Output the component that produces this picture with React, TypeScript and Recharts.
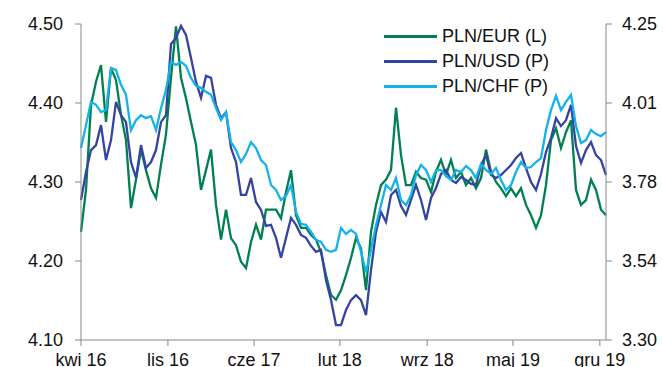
import { LineChart, Line, XAxis, YAxis } from "recharts";

const COLORS = { eur: "#00804f", usd: "#3444a0", chf: "#14b2ea" };
const FONT = '"Liberation Sans", Arial, sans-serif';

// one reading roughly every 13 days, Apr 2016 -> end of 2019
const STEP_DAYS = 13;

const X_TICKS = [0, 226, 450, 673, 900, 1123, 1349];
const X_LABELS = ["kwi 16", "lis 16", "cze 17", "lut 18", "wrz 18", "maj 19", "gru 19"];

const LEFT_TICKS = [4.1, 4.2, 4.3, 4.4, 4.5];
const RIGHT_TICKS = [3.3, 3.5375, 3.775, 4.0125, 4.25];
const RIGHT_LABELS = ["3.30", "3.54", "3.78", "4.01", "4.25"];

const PLN_EUR = [
  4.237, 4.29, 4.397, 4.427, 4.448, 4.376, 4.444, 4.429, 4.385, 4.353,
  4.267, 4.303, 4.341, 4.315, 4.292, 4.28, 4.322, 4.36, 4.432, 4.497,
  4.432, 4.406, 4.376, 4.347, 4.29, 4.315, 4.341, 4.271, 4.227, 4.265,
  4.229, 4.22, 4.199, 4.191, 4.224, 4.246, 4.227, 4.265, 4.265, 4.265,
  4.254, 4.287, 4.315, 4.258, 4.242, 4.242, 4.233, 4.227, 4.211, 4.182,
  4.157, 4.151, 4.163, 4.182, 4.204, 4.229, 4.216, 4.163, 4.237, 4.271,
  4.296, 4.303, 4.315, 4.394, 4.334, 4.296, 4.296, 4.313, 4.305, 4.303,
  4.287, 4.313, 4.328, 4.309, 4.328, 4.305, 4.313, 4.296, 4.305, 4.292,
  4.305, 4.341, 4.313, 4.3, 4.292, 4.282, 4.292, 4.282, 4.292, 4.271,
  4.258, 4.242, 4.258, 4.296, 4.353, 4.368, 4.343, 4.363, 4.378, 4.29,
  4.271, 4.277, 4.303, 4.29, 4.265, 4.258,
];

const PLN_USD = [
  3.721, 3.805, 3.871, 3.886, 3.946, 3.841, 3.901, 4.016, 3.976, 3.955,
  3.835, 3.787, 3.886, 3.817, 3.835, 3.871, 3.955, 3.976, 4.19, 4.208,
  4.244, 4.217, 4.148, 4.076, 4.028, 4.094, 4.088, 4.007, 3.967, 3.985,
  3.877, 3.835, 3.736, 3.736, 3.787, 3.715, 3.691, 3.643, 3.646, 3.607,
  3.547, 3.607, 3.667, 3.646, 3.616, 3.607, 3.583, 3.565, 3.571, 3.48,
  3.42, 3.345, 3.345, 3.39, 3.42, 3.435, 3.42, 3.375, 3.51, 3.625,
  3.685, 3.655, 3.736, 3.751, 3.703, 3.676, 3.721, 3.766, 3.721, 3.661,
  3.727, 3.757, 3.799, 3.811, 3.781, 3.772, 3.79, 3.781, 3.769, 3.766,
  3.826, 3.856, 3.796, 3.787, 3.796, 3.811, 3.826, 3.847, 3.862, 3.817,
  3.775, 3.751, 3.799, 3.865, 3.907, 3.967, 3.943, 3.961, 4.007, 3.883,
  3.832, 3.871, 3.895, 3.856, 3.841, 3.796,
];

const PLN_CHF = [
  3.877, 3.946, 4.016, 4.007, 3.985, 3.991, 4.118, 4.112, 4.067, 4.037,
  3.931, 3.961, 3.976, 3.967, 3.973, 3.931, 3.997, 4.052, 4.136, 4.127,
  4.136, 4.124, 4.088, 4.064, 4.058, 4.046, 4.037, 3.997, 3.961, 3.985,
  3.895, 3.871, 3.835, 3.859, 3.895, 3.877, 3.841, 3.826, 3.766, 3.751,
  3.721, 3.733, 3.766, 3.685, 3.649, 3.646, 3.625, 3.601, 3.595, 3.571,
  3.565, 3.571, 3.637, 3.619, 3.631, 3.619, 3.565, 3.504, 3.571, 3.646,
  3.706, 3.766, 3.751, 3.787, 3.721, 3.706, 3.736, 3.796, 3.826, 3.811,
  3.775, 3.811, 3.811, 3.793, 3.781, 3.811, 3.805, 3.823, 3.811, 3.787,
  3.829, 3.811, 3.799, 3.817, 3.781, 3.751, 3.766, 3.805, 3.835, 3.817,
  3.82, 3.835, 3.847, 3.931, 3.991, 4.034, 3.991, 4.016, 4.037, 3.943,
  3.892, 3.901, 3.931, 3.919, 3.913, 3.925,
];

const SERIES = [
  { key: "eur", name: "PLN/EUR (L)", axis: "left", color: COLORS.eur },
  { key: "usd", name: "PLN/USD (P)", axis: "right", color: COLORS.usd },
  { key: "chf", name: "PLN/CHF (P)", axis: "right", color: COLORS.chf },
];

const data = PLN_EUR.map((eur, i) => ({
  day: i * STEP_DAYS,
  eur,
  usd: PLN_USD[i],
  chf: PLN_CHF[i],
}));

const tickStyle = { fill: "#111", fontSize: 18, fontFamily: FONT };

export default function App() {
  return (
    <div style={{ position: "absolute", left: 0, top: 0, width: 663, height: 367, background: "#fff", overflow: "hidden" }}>
      <LineChart width={663} height={367} data={data} margin={{ top: 24, right: 0, bottom: 0, left: 0 }}>
        <XAxis
          dataKey="day"
          type="number"
          domain={[0, 1365]}
          ticks={X_TICKS}
          tickFormatter={(v) => X_LABELS[X_TICKS.indexOf(v)]}
          interval={0}
          height={27}
          tickSize={6}
          tickMargin={7}
          stroke="#888"
          tick={tickStyle}
        />
        <YAxis
          yAxisId="left"
          domain={[4.1, 4.5]}
          ticks={LEFT_TICKS}
          tickFormatter={(v) => v.toFixed(2)}
          width={81}
          tickSize={6}
          tickMargin={12}
          stroke="#888"
          tick={tickStyle}
        />
        <YAxis
          yAxisId="right"
          orientation="right"
          domain={[3.3, 4.25]}
          ticks={RIGHT_TICKS}
          tickFormatter={(v) => RIGHT_LABELS[RIGHT_TICKS.indexOf(v)]}
          width={57}
          tickSize={6}
          tickMargin={10}
          stroke="#888"
          tick={tickStyle}
        />
        {SERIES.map((s) => (
          <Line
            key={s.key}
            yAxisId={s.axis}
            dataKey={s.key}
            name={s.name}
            stroke={s.color}
            strokeWidth={2.3}
            dot={false}
            isAnimationActive={false}
          />
        ))}
      </LineChart>

      {/* legend, drawn over the plot like in the source */}
      <div style={{ position: "absolute", left: 384, top: 24, fontFamily: FONT, fontSize: 18, color: "#111" }}>
        {SERIES.map((s) => (
          <div key={s.key} style={{ display: "flex", alignItems: "center", height: 25 }}>
            <span style={{ display: "inline-block", width: 53, height: 3, background: s.color, marginRight: 5 }} />
            <span>{s.name}</span>
          </div>
        ))}
      </div>
    </div>
  );
}
